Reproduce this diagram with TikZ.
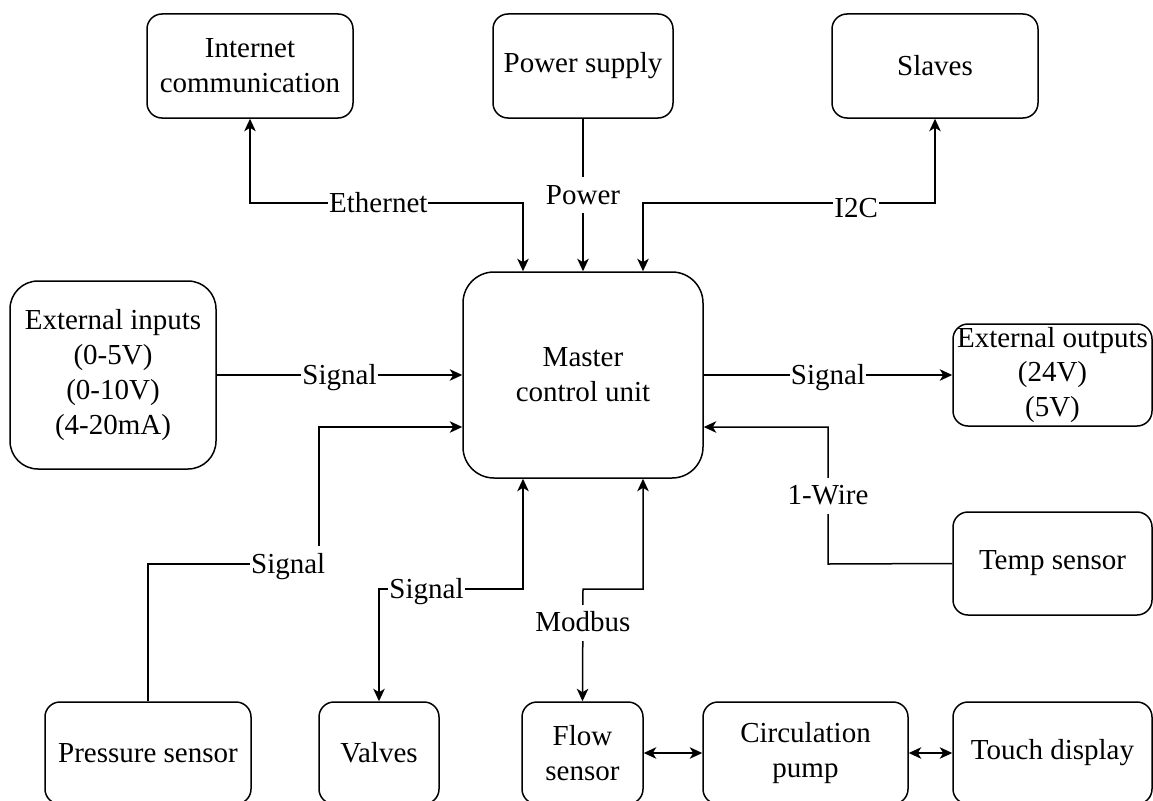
\documentclass[tikz,border=0pt]{standalone}
\usepackage{fontspec}
\setmainfont{Liberation Serif}
\usetikzlibrary{arrows.meta,calc}
\begin{document}
\begin{tikzpicture}[x=1pt,y=-1pt,
  >={Stealth[length=12.5pt,width=11.5pt,inset=3.5pt]},
  txt/.style={font=\fontsize{29}{34.8}\selectfont},
  box/.style={txt, draw, line width=1.5pt, rounded corners=15pt, inner sep=0pt, align=center},
  lbl/.style={txt, fill=white, inner xsep=1pt, inner ysep=0pt, text height=27pt, text depth=9pt},
  wire/.style={line width=1.5pt}]
  % page area
  \clip (0,0) rectangle (1153,800);
  \fill[white] (0,0) rectangle (1153,800);

  % blocks
  \node[box, minimum width=206pt, minimum height=104pt] (inet)   at (250,66)  {Internet\\communication};
  \node[box, minimum width=180pt, minimum height=104pt] (power)  at (583,66)  {Power supply};
  \node[box, minimum width=206pt, minimum height=104pt] (slaves) at (935,66)  {Slaves};
  \node[box, minimum width=240pt, minimum height=206pt, rounded corners=31pt] (mcu) at (583,375) {Master\\control unit};
  \node[box, minimum width=206pt, minimum height=188pt, rounded corners=28pt] (extin) at (113,375) {External inputs\\(0-5V)\\(0-10V)\\(4-20mA)};
  \node[box, minimum width=199pt, minimum height=102pt] (extout) at (1052.5,375) {External outputs\\(24V)\\(5V)};
  \node[box, minimum width=199pt, minimum height=103pt] (temp)   at (1052.5,563.5) {Temp sensor};
  \node[box, minimum width=206pt, minimum height=102pt] (press)  at (148,753)  {Pressure sensor};
  \node[box, minimum width=120pt, minimum height=102pt] (valves) at (379,753)  {Valves};
  \node[box, minimum width=121pt, minimum height=102pt] (flow)   at (582.5,753) {Flow\\sensor};
  \node[box, minimum width=205pt, minimum height=102pt] (pump)   at (805.5,753) {Circulation\\pump};
  \node[box, minimum width=199pt, minimum height=102pt] (touch)  at (1052.5,753) {Touch display};

  % bend points of the routed connectors
  \coordinate (eth) at (523,203);
  \coordinate (i2c) at (643,203);
  \coordinate (pa)  at (319,564);
  \coordinate (pb)  at (319,427);
  \coordinate (va)  at (523,589);
  \coordinate (vb)  at (379,589);
  \coordinate (ma)  at (643,589);
  \coordinate (mb)  at (583,589);
  \coordinate (ta)  at (828,564);
  \coordinate (tb)  at (828,427);

  % top connections
  \draw[wire,<->] (inet.south) -- (inet.south |- eth)
    -- node[lbl,pos=0.47]{Ethernet} (eth) -- (eth |- mcu.north);
  \draw[wire,->] (power.south) -- node[lbl]{Power} (mcu.north);
  \draw[wire,<->] (i2c |- mcu.north) -- (i2c)
    -- node[lbl,pos=0.73,yshift=-5pt]{I2C} (i2c -| slaves.south) -- (slaves.south);

  % left connections
  \draw[wire,->] (extin.east) -- node[lbl]{Signal} (mcu.west);
  \draw[wire,->] (press.north) -- (press.north |- pa)
    -- node[lbl,pos=0.82]{Signal} (pa) -- (pb) -- (pb -| mcu.west);

  % bottom connections
  \draw[wire,<->] (va |- mcu.south) -- (va)
    -- node[lbl,pos=0.67]{Signal} (vb) -- (valves.north);
  \draw[wire,<->] (ma |- mcu.south) -- (ma) -- (mb)
    -- node[lbl,pos=0.3]{Modbus} (flow.north);

  % right connections
  \draw[wire,->] (mcu.east) -- node[lbl]{Signal} (extout.west);
  \draw[wire,->] (temp.west) -- (ta) -- node[lbl]{1-Wire} (tb) -- (tb -| mcu.east);

  % pump chain
  \draw[wire,<->] (flow.east) -- (pump.west);
  \draw[wire,<->] (pump.east) -- (touch.west);
\end{tikzpicture}
\end{document}
